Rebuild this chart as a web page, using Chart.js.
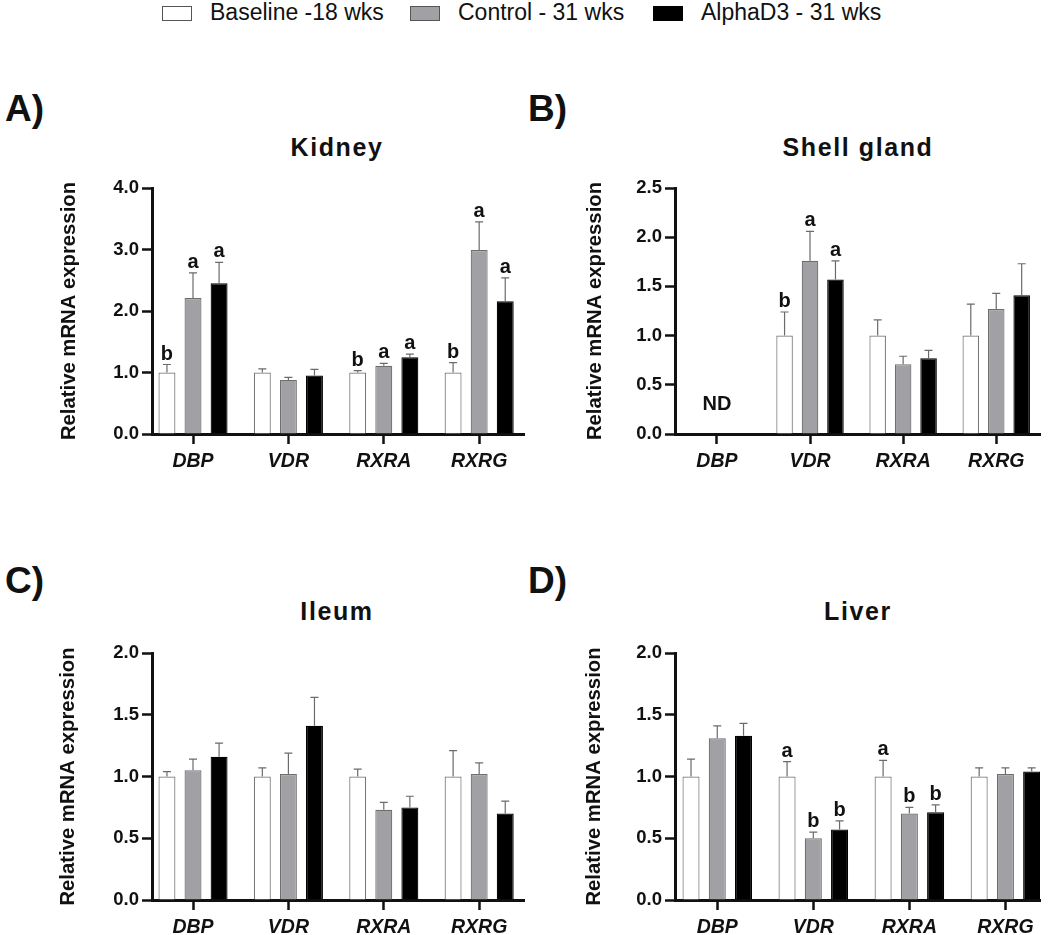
<!DOCTYPE html>
<html>
<head>
<meta charset="utf-8">
<script src="https://cdn.jsdelivr.net/npm/chart.js@4.4.1/dist/chart.umd.min.js"></script>
<style>
  body { margin: 0; background: #fff; font-family: "Liberation Sans", Arial, sans-serif; color: #111; }
  #page { position: relative; width: 1052px; height: 935px; overflow: hidden; }
  .abs { position: absolute; line-height: 1; white-space: nowrap; }
  .panel { font-size: 37px; font-weight: bold; }
  .title { font-size: 25px; font-weight: bold; letter-spacing: 1.6px; transform: translateX(-50%); }
  .key { position: absolute; top: 6px; width: 30px; height: 15px; box-sizing: border-box; border: 1px solid #555; }
  .keytext { font-size: 23px; top: 1px; }
  canvas { position: absolute; }
</style>
</head>
<body>
<div id="page">
  <div class="key" style="left:162px;background:#fff;"></div>
  <div class="abs keytext" style="left:210px;">Baseline -18 wks</div>
  <div class="key" style="left:410px;background:#a0a0a5;"></div>
  <div class="abs keytext" style="left:458px;">Control - 31 wks</div>
  <div class="key" style="left:653px;background:#000;border-color:#000;"></div>
  <div class="abs keytext" style="left:701px;">AlphaD3 - 31 wks</div>

  <div class="abs panel" style="left:5px;top:90px;">A)</div>
  <div class="abs panel" style="left:528px;top:90px;">B)</div>
  <div class="abs panel" style="left:5px;top:562px;">C)</div>
  <div class="abs panel" style="left:528px;top:562px;">D)</div>

  <div class="abs title" style="left:337px;top:135px;">Kidney</div>
  <div class="abs title" style="left:858px;top:135px;">Shell gland</div>
  <div class="abs title" style="left:337px;top:599px;">Ileum</div>
  <div class="abs title" style="left:858px;top:599px;">Liver</div>

  <canvas id="kidney" width="500" height="304" style="left:40px;top:170px;"></canvas>
  <canvas id="shell" width="493" height="304" style="left:563px;top:170px;"></canvas>
  <canvas id="ileum" width="500" height="305" style="left:40px;top:635px;"></canvas>
  <canvas id="liver" width="493" height="305" style="left:563px;top:635px;"></canvas>
</div>
<script>
const GENES = ['DBP', 'VDR', 'RXRA', 'RXRG'];
const GROUPS = ['Baseline -18 wks', 'Control - 31 wks', 'AlphaD3 - 31 wks'];

// one row per group: baseline, control, alphaD3; *_UPPER = top of error bar
const KIDNEY_MEAN = [[1.00, 1.00, 1.00, 1.00], [2.21, 0.88, 1.11, 2.99], [2.45, 0.95, 1.25, 2.16]];
const KIDNEY_UPPER = [[1.13, 1.06, 1.03, 1.16], [2.62, 0.92, 1.15, 3.45], [2.79, 1.05, 1.30, 2.54]];
const KIDNEY_SIG = [['b', '', 'b', 'b'], ['a', '', 'a', 'a'], ['a', '', 'a', 'a']];

const SHELL_MEAN = [[null, 1.00, 1.00, 1.00], [null, 1.76, 0.71, 1.27], [null, 1.57, 0.77, 1.41]];
const SHELL_UPPER = [[null, 1.24, 1.16, 1.32], [null, 2.06, 0.79, 1.43], [null, 1.76, 0.85, 1.73]];
const SHELL_SIG = [['', 'b', '', ''], ['', 'a', '', ''], ['', 'a', '', '']];
const SHELL_NOTE = 'ND';

const ILEUM_MEAN = [[1.00, 1.00, 1.00, 1.00], [1.05, 1.02, 0.73, 1.02], [1.16, 1.41, 0.75, 0.70]];
const ILEUM_UPPER = [[1.04, 1.07, 1.06, 1.21], [1.14, 1.19, 0.79, 1.11], [1.27, 1.64, 0.84, 0.80]];
const ILEUM_SIG = [['', '', '', ''], ['', '', '', ''], ['', '', '', '']];

const LIVER_MEAN = [[1.00, 1.00, 1.00, 1.00], [1.31, 0.50, 0.70, 1.02], [1.33, 0.57, 0.71, 1.04]];
const LIVER_UPPER = [[1.14, 1.12, 1.13, 1.07], [1.41, 0.55, 0.75, 1.07], [1.43, 0.64, 0.77, 1.07]];
const LIVER_SIG = [['', 'a', 'a', ''], ['', 'b', 'b', ''], ['', 'b', 'b', '']];

const Y_MAX = [4, 2.5, 2, 2];
const Y_STEP = [1, 0.5, 0.5, 0.5];
const Y_TITLE = 'Relative mRNA expression';

const FILLS = ['#ffffff', '#a0a0a5', '#000000'];
const EDGES = ['#777777', '#6e6e6e', '#000000'];
const FONT = '"Liberation Sans", Arial, sans-serif';
const INK = '#111';

// error bars, significance letters and the ND note
function marks(upper, sig, note) {
    return {
        id: 'marks',
        afterDatasetsDraw(chart) {
            const ctx = chart.ctx;
            const y = chart.scales.y;
            ctx.save();
            chart.data.datasets.forEach((ds, i) => {
                chart.getDatasetMeta(i).data.forEach((bar, j) => {
                    if (ds.data[j].y == null) return;
                    const top = y.getPixelForValue(upper[i][j]);
                    ctx.strokeStyle = '#6b6b6b';
                    ctx.lineWidth = 1.2;
                    ctx.beginPath();
                    ctx.moveTo(bar.x, bar.y);
                    ctx.lineTo(bar.x, top);
                    ctx.moveTo(bar.x - 4, top);
                    ctx.lineTo(bar.x + 4, top);
                    ctx.stroke();
                    if (sig[i][j]) {
                        ctx.fillStyle = INK;
                        ctx.font = 'bold 20px ' + FONT;
                        ctx.textAlign = 'center';
                        ctx.textBaseline = 'alphabetic';
                        ctx.fillText(sig[i][j], bar.x, top - 5);
                    }
                });
            });
            if (note) {
                ctx.fillStyle = INK;
                ctx.font = 'bold 20px ' + FONT;
                ctx.textAlign = 'center';
                ctx.textBaseline = 'alphabetic';
                ctx.fillText(note, chart.scales.x.getPixelForValue(0), y.getPixelForValue(0.24));
            }
            ctx.restore();
        }
    };
}

function drawPanel(id, mean, upper, sig, n, xMin, xMax, titlePad, note) {
    const datasets = GROUPS.map((g, i) => ({
        label: g,
        data: mean[i].map((v, j) => ({x: j, y: v})),
        backgroundColor: FILLS[i],
        borderColor: EDGES[i],
        borderWidth: 1.2,
        categoryPercentage: 0.82,
        barPercentage: 0.65
    }));

    new Chart(document.getElementById(id), {
        type: 'bar',
        data: {datasets: datasets},
        options: {
            responsive: false,
            animation: false,
            layout: {padding: {top: 18, right: 16, left: 0, bottom: 0}},
            plugins: {legend: {display: false}, tooltip: {enabled: false}},
            scales: {
                x: {
                    type: 'linear',
                    min: xMin,
                    max: xMax,
                    offset: false,
                    afterBuildTicks: s => { s.ticks = GENES.map((g, i) => ({value: i})); },
                    afterFit: s => { s.height = 40; },
                    grid: {offset: false, drawOnChartArea: false, tickLength: 10,
                           tickColor: INK, tickWidth: 2.5},
                    border: {display: true, color: INK, width: 3},
                    ticks: {
                        autoSkip: false, maxRotation: 0, padding: 6, color: INK,
                        font: {family: FONT, size: 19.5, weight: 'bold', style: 'italic'},
                        callback: v => GENES[v]
                    }
                },
                y: {
                    min: 0,
                    max: Y_MAX[n],
                    afterFit: s => { s.width = 112; },
                    grid: {drawOnChartArea: false, tickLength: 10, tickColor: INK, tickWidth: 2.5},
                    border: {display: true, color: INK, width: 3},
                    ticks: {
                        stepSize: Y_STEP[n], padding: 3, color: INK,
                        font: {family: FONT, size: 18.5, weight: 'bold'},
                        callback: v => v.toFixed(1)
                    },
                    title: {
                        display: true, text: Y_TITLE, color: INK,
                        font: {family: FONT, size: 20.3, weight: 'bold', lineHeight: 1.2},
                        padding: {top: titlePad, bottom: 0}
                    }
                }
            }
        },
        plugins: [marks(upper, sig, note)]
    });
}

drawPanel('kidney', KIDNEY_MEAN, KIDNEY_UPPER, KIDNEY_SIG, 0, -0.43, 3.47, 16.8, null);
drawPanel('shell', SHELL_MEAN, SHELL_UPPER, SHELL_SIG, 1, -0.45, 3.47, 19.8, SHELL_NOTE);
drawPanel('ileum', ILEUM_MEAN, ILEUM_UPPER, ILEUM_SIG, 2, -0.43, 3.47, 15.8, null);
drawPanel('liver', LIVER_MEAN, LIVER_UPPER, LIVER_SIG, 3, -0.44, 3.36, 18.8, null);
</script>
</body>
</html>
